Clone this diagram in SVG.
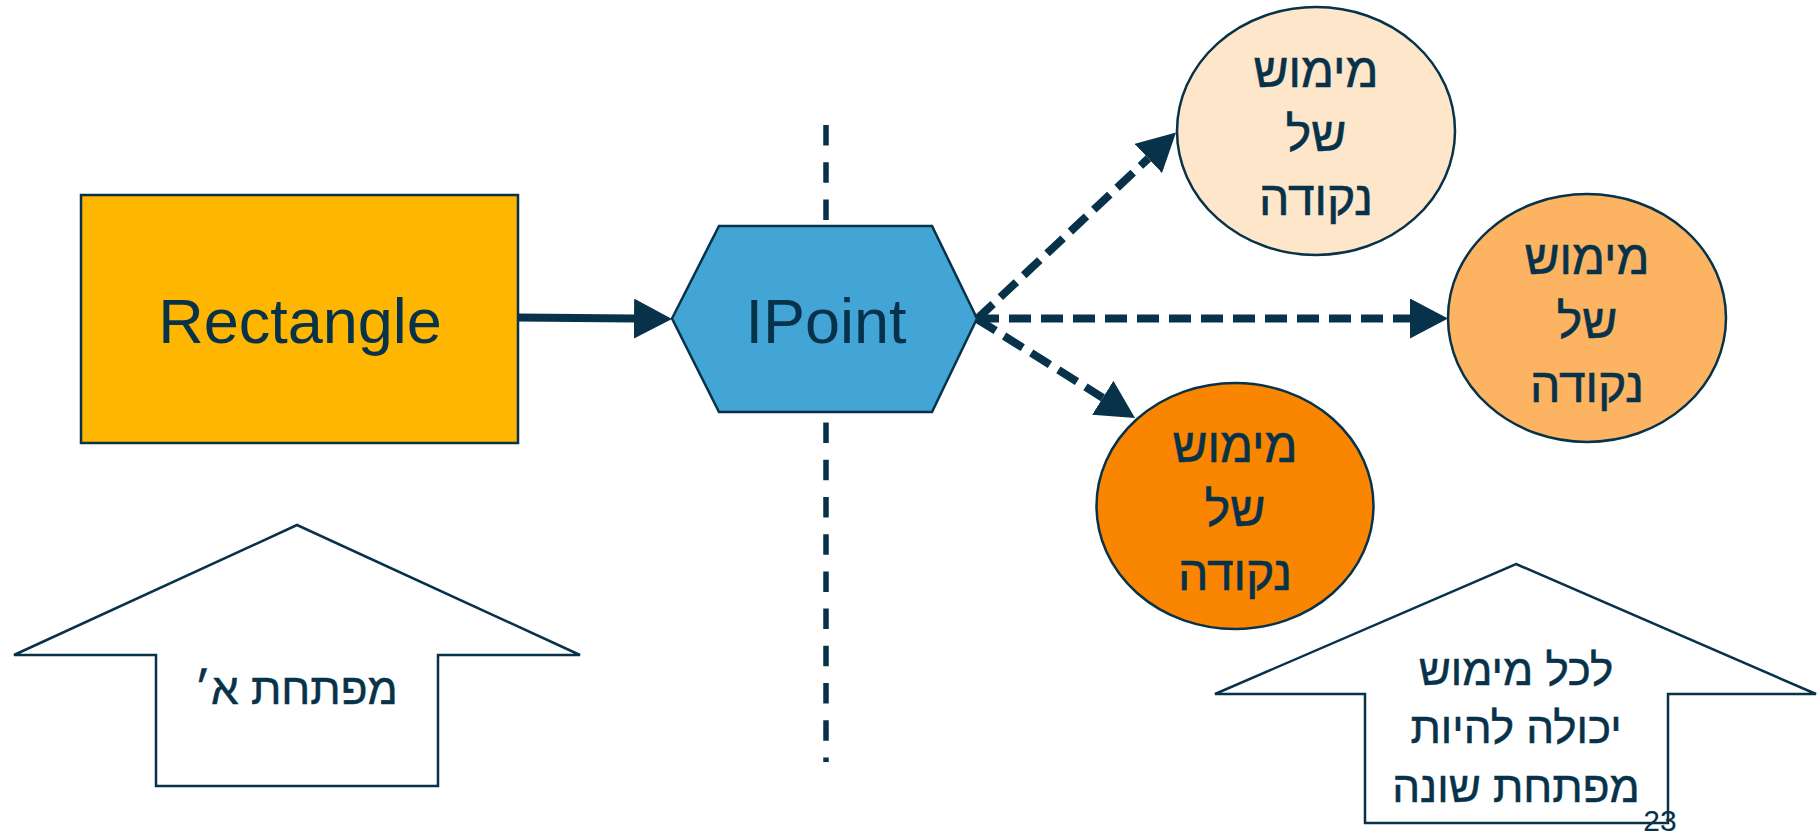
<svg xmlns="http://www.w3.org/2000/svg" width="1820" height="837" viewBox="0 0 1820 837">
  <style>
    .edge { stroke: #07324a; stroke-width: 2.5; }
    .lbl { font-family: "Liberation Sans", Arial, "DejaVu Sans", sans-serif; fill: #07324a; text-anchor: middle; }
    .big { font-size: 63px; }
    .heb { font-size: 48px; stroke: #07324a; stroke-width: 0.6; }
    .note { font-size: 44px; stroke: #07324a; stroke-width: 0.5; }
    .conn { stroke: #07324a; stroke-width: 8; fill: none; }
    .dash { stroke-dasharray: 22 10; }
  </style>
  <defs>
    <marker id="head" markerUnits="userSpaceOnUse" viewBox="0 -20 38 40" refX="0" refY="0" markerWidth="38" markerHeight="40" orient="auto">
      <path d="M0,-20 L38,0 L0,20 z" fill="#07324a"/>
    </marker>
  </defs>

  <rect width="1820" height="837" fill="#ffffff"/>

  <!-- vertical divider between the two sides -->
  <line id="divider" x1="826" y1="125" x2="826" y2="762" stroke="#07324a" stroke-width="5.5" stroke-dasharray="20.5 16.7"/>

  <g id="rectangle">
    <rect x="81" y="195" width="437" height="248" fill="#ffb600" class="edge"/>
    <text class="lbl big" x="300" y="343">Rectangle</text>
  </g>

  <g id="ipoint">
    <polygon points="672,318.5 719,226 932,226 977,318.5 932,412 719,412" fill="#42a5d6" class="edge"/>
    <text class="lbl big" x="826" y="343">IPoint</text>
  </g>

  <g id="impl-top">
    <ellipse cx="1316" cy="131" rx="139" ry="124" fill="#fee6ca" class="edge"/>
    <text class="lbl heb" x="1316" y="87">מימוש</text>
    <text class="lbl heb" x="1316" y="151">של</text>
    <text class="lbl heb" x="1316" y="215">נקודה</text>
  </g>

  <g id="impl-right">
    <ellipse cx="1587" cy="318" rx="139" ry="124" fill="#fdb462" class="edge"/>
    <text class="lbl heb" x="1587" y="274">מימוש</text>
    <text class="lbl heb" x="1587" y="338">של</text>
    <text class="lbl heb" x="1587" y="402">נקודה</text>
  </g>

  <g id="impl-bottom">
    <ellipse cx="1235" cy="506" rx="138.5" ry="123" fill="#f98500" class="edge"/>
    <text class="lbl heb" x="1235" y="462">מימוש</text>
    <text class="lbl heb" x="1235" y="526">של</text>
    <text class="lbl heb" x="1235" y="590">נקודה</text>
  </g>

  <g id="developer-a">
    <polygon points="297,525 580,655 438,655 438,786 156,786 156,655 14,655" fill="#ffffff" class="edge"/>
    <text class="lbl note" x="296" y="704">מפתחת א׳</text>
  </g>

  <g id="developer-any">
    <polygon points="1516,564 1816,694 1668,694 1668,823 1365,823 1365,694 1215,694" fill="#ffffff" class="edge"/>
    <text class="lbl note" x="1516" y="685">לכל מימוש</text>
    <text class="lbl note" x="1516" y="743">יכולה להיות</text>
    <text class="lbl note" x="1516" y="802">מפתחת שונה</text>
  </g>

  <g id="connectors">
    <line class="conn" x1="518" y1="317.5" x2="634" y2="318.6" marker-end="url(#head)"/>
    <line class="conn dash" x1="977" y1="319" x2="1148.3" y2="158.5" marker-end="url(#head)"/>
    <line class="conn dash" x1="977" y1="318.5" x2="1410" y2="318.5" marker-end="url(#head)"/>
    <line class="conn dash" x1="977" y1="319" x2="1102.8" y2="397.8" marker-end="url(#head)"/>
  </g>

  <text id="page-number" x="1660" y="831" font-family="Liberation Sans, Arial, sans-serif" font-size="30" fill="#07324a" text-anchor="middle">23</text>
</svg>
